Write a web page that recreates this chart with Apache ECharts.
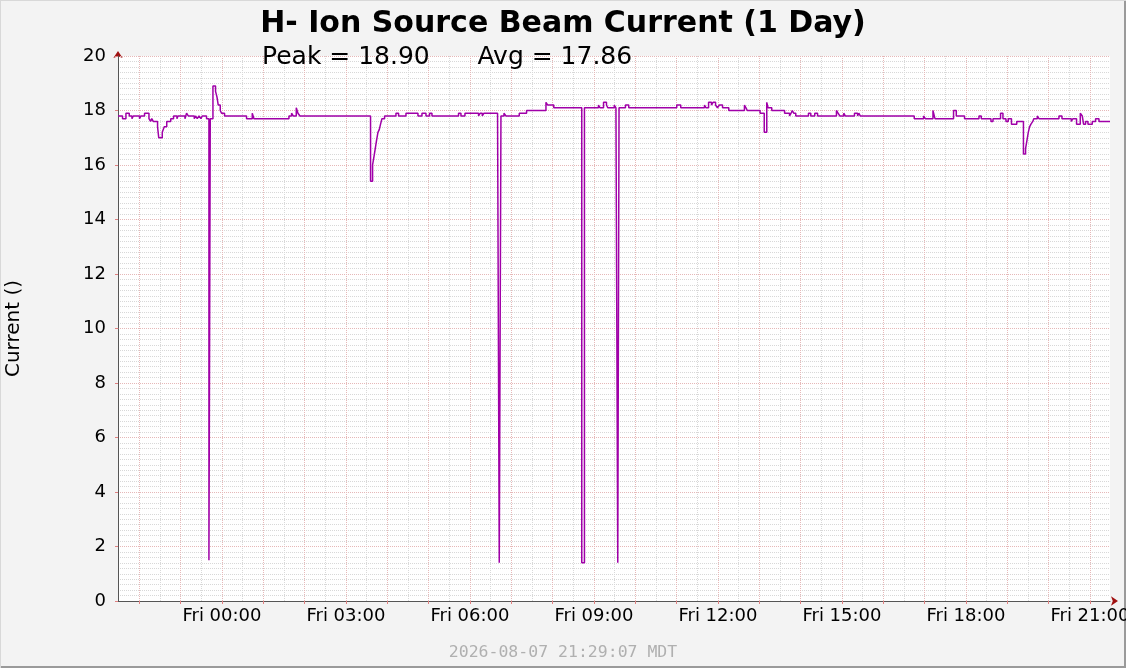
<!DOCTYPE html>
<html>
<head>
<meta charset="utf-8">
<script src="https://cdn.jsdelivr.net/npm/echarts@6/dist/echarts.min.js"></script>
<style>
  html, body { margin: 0; padding: 0; background: #f3f3f3; }
  #chart { width: 1126px; height: 668px; }
</style>
</head>
<body>
<div id="chart"></div>
<script>
// Time in hours since Thu 00:00 (24 = Fri 00:00); value = beam current
const timeHours = [
  21.485, 21.595, 21.677, 21.757, 21.823, 21.854, 22.006, 22.040, 22.127, 22.234,
  22.273, 22.302, 22.338, 22.442, 22.471, 22.556, 22.604, 22.664, 22.761, 22.829,
  22.911, 22.935, 23.105, 23.144, 23.185, 23.330, 23.361, 23.402, 23.444, 23.492,
  23.523, 23.627, 23.685, 23.717, 23.782, 23.845, 23.879, 23.910, 23.959, 23.990,
  24.063, 24.595, 24.733, 24.774, 25.621, 25.684, 25.725, 25.798, 25.839, 25.887,
  27.595, 27.644, 27.677, 27.709, 27.740, 27.774, 27.806, 27.837, 27.871, 27.934,
  28.210, 28.273, 28.452, 28.742, 28.839, 28.936, 29.023, 29.081, 29.724, 29.782,
  29.879, 30.208, 30.249, 30.298, 30.339, 30.668, 30.709, 30.750, 30.823, 30.871,
  31.193, 31.370, 31.839, 31.882, 32.028, 32.705, 32.770, 33.109, 33.148, 33.232,
  33.303, 33.334, 33.491, 33.532, 33.576, 33.607, 33.762, 33.842, 35.003, 35.100,
  35.674, 35.712, 35.773, 35.843, 35.882, 35.942, 35.988, 36.036, 36.111, 36.262,
  36.641, 36.678, 36.709, 37.019, 37.120, 37.181, 37.212, 37.302, 37.612, 37.732,
  37.769, 37.798, 37.834, 37.883, 38.190, 38.246, 38.342, 38.410, 38.867, 38.906,
  38.947, 39.044, 39.080, 39.303, 39.378, 39.407, 39.443, 40.749, 40.975, 41.016,
  41.202, 41.250, 41.700, 41.766, 41.966, 42.315, 42.370, 42.605, 42.654, 42.837,
  42.895, 42.968, 43.023, 43.101, 43.229, 43.391, 43.442, 43.476, 43.508, 43.539,
  43.573, 43.617, 43.641, 43.726, 43.767, 44.250, 44.323, 44.548, 44.589, 44.676,
  44.766, 44.814, 44.845, 44.894, 44.952, 45.056, 45.136, 45.218, 45.485
];
const current = [
  17.8, 17.7, 17.9, 17.8, 17.7, 17.8, 17.7, 17.8, 17.9, 17.7,
  17.6, 17.7, 17.6, 17.4, 17.0, 17.2, 17.4, 17.6, 17.7, 17.8,
  17.7, 17.8, 17.7, 17.9, 17.8, 17.7, 17.8, 17.7, 17.8, 17.7,
  17.8, 17.7, 1.5, 17.7, 18.9, 18.7, 18.5, 18.2, 18.0, 17.9,
  17.8, 17.7, 17.9, 17.7, 17.8, 17.9, 17.8, 18.1, 17.9, 17.8,
  15.4, 16.0, 16.3, 16.6, 16.9, 17.2, 17.3, 17.5, 17.7, 17.8,
  17.9, 17.8, 17.9, 17.8, 17.9, 17.8, 17.9, 17.8, 17.9, 17.8,
  17.9, 17.8, 17.9, 17.8, 17.9, 17.8, 1.4, 17.8, 17.9, 17.8,
  17.9, 18.0, 18.3, 18.2, 18.1, 1.4, 18.1, 18.2, 18.1, 18.3,
  18.2, 18.1, 18.2, 18.1, 1.4, 18.1, 18.2, 18.1, 18.2, 18.1,
  18.2, 18.1, 18.3, 18.2, 18.3, 18.2, 18.1, 18.2, 18.1, 18.0,
  18.2, 18.1, 18.0, 17.9, 17.2, 18.3, 18.1, 18.0, 17.9, 17.8,
  17.9, 18.0, 17.9, 17.8, 17.9, 17.8, 17.9, 17.8, 18.0, 17.9,
  17.8, 17.9, 17.8, 17.9, 17.8, 17.9, 17.8, 17.7, 17.8, 17.7,
  18.0, 17.7, 18.0, 17.8, 17.7, 17.8, 17.7, 17.6, 17.7, 17.9,
  17.7, 17.6, 17.7, 17.5, 17.6, 16.4, 16.6, 16.9, 17.2, 17.4,
  17.5, 17.6, 17.7, 17.8, 17.7, 17.8, 17.7, 17.6, 17.7, 17.5,
  17.9, 17.8, 17.5, 17.6, 17.5, 17.6, 17.7, 17.6, 17.6
];
const hourGrid = [22,23,24,25,26,27,28,29,30,31,32,33,34,35,36,37,38,39,40,41,42,43,44,45];
const halfHourGrid = [21.5,22.5,23.5,24.5,25.5,26.5,27.5,28.5,29.5,30.5,31.5,32.5,33.5,34.5,35.5,36.5,37.5,38.5,39.5,40.5,41.5,42.5,43.5,44.5,45.5];
const xLabelHours = [24, 27, 30, 33, 36, 39, 42, 45];
const xLabelTexts = ['Fri 00:00','Fri 03:00','Fri 06:00','Fri 09:00','Fri 12:00','Fri 15:00','Fri 18:00','Fri 21:00'];
const chartTitle = 'H- Ion Source Beam Current (1 Day)';
const peakValue = '18.90';
const avgValue = '17.86';
const yAxisName = 'Current ()';
const footerText = '2026-08-07 21:29:07 MDT';
const tStart = 21.485, tEnd = 45.485;

const FONT = 'DejaVu Sans';
const majorGrid = { color: '#e6b8b8', width: 1, type: [1, 1] };
const minorGrid = { color: '#d8d8d8', width: 1, type: [1, 1] };

const chart = echarts.init(document.getElementById('chart'), null, { renderer: 'canvas' });
chart.setOption({
  backgroundColor: '#f3f3f3',
  animation: false,
  title: [
    { text: chartTitle, left: 'center', top: 4,
      textStyle: { fontFamily: FONT, fontWeight: 'bold', fontSize: 30, color: '#000' } },
    { text: 'Peak = ' + peakValue + '      Avg = ' + avgValue, left: 257, top: 40,
      textStyle: { fontFamily: FONT, fontWeight: 'normal', fontSize: 25, color: '#000' } },
    { text: footerText, left: 'center', top: 639,
      textStyle: { fontFamily: 'DejaVu Sans Mono', fontWeight: 'normal', fontSize: 16.5, color: '#b0b0b0' } }
  ],
  grid: { left: 118, right: 16, top: 56, bottom: 67, show: true, backgroundColor: '#ffffff', borderWidth: 0,
    containLabel: false, outerBoundsMode: 'none' },
  xAxis: [
    { type: 'value', min: tStart, max: tEnd, position: 'bottom', z: 2,
      axisLine: { show: true, onZero: false, lineStyle: { color: '#555', width: 1 } },
      axisTick: { show: true, length: 3, inside: false, customValues: hourGrid, lineStyle: { color: '#e08080' } },
      axisLabel: { show: true, customValues: xLabelHours, margin: 6,
        fontFamily: FONT, fontSize: 18, color: '#000',
        formatter: v => xLabelTexts[xLabelHours.indexOf(Math.round(v))] },
      splitLine: { show: true, lineStyle: majorGrid },
      minorSplitLine: { show: false } },
    { type: 'value', min: tStart, max: tEnd, position: 'bottom', z: 1,
      axisLine: { show: true, onZero: false, symbol: ['none', 'arrow'], symbolSize: [7, 7], symbolOffset: [0, 8],
        lineStyle: { color: '#a01010', width: 0 } },
      axisTick: { show: false, customValues: halfHourGrid },
      axisLabel: { show: false },
      splitLine: { show: true, lineStyle: minorGrid } }
  ],
  yAxis: [
    { type: 'value', min: 0, max: 20, interval: 2, z: 2,
      name: yAxisName, nameLocation: 'middle', nameGap: 94, nameRotate: 90,
      nameTextStyle: { fontFamily: FONT, fontSize: 20, color: '#000' },
      axisLine: { show: true, onZero: false, lineStyle: { color: '#555', width: 1 } },
      axisTick: { show: true, length: 3, lineStyle: { color: '#e08080' } },
      axisLabel: { margin: 12, fontFamily: FONT, fontSize: 18, color: '#000' },
      splitLine: { show: true, lineStyle: majorGrid },
      minorTick: { show: false, splitNumber: 10 },
      minorSplitLine: { show: true, lineStyle: minorGrid } },
    { type: 'value', min: 0, max: 20, interval: 2, z: 1, position: 'left',
      axisLine: { show: true, onZero: false, symbol: ['none', 'arrow'], symbolSize: [7, 7], symbolOffset: [0, 5],
        lineStyle: { color: '#a01010', width: 0 } },
      axisTick: { show: false }, axisLabel: { show: false }, splitLine: { show: false } }
  ],
  series: [{
    type: 'line', step: 'end', showSymbol: false, symbol: 'none',
    xAxisIndex: 0, yAxisIndex: 0,
    data: timeHours.map((t, i) => [t, current[i]]),
    lineStyle: { color: '#a000a8', width: 1.5 },
    z: 5
  }],
  graphic: [
    { type: 'rect', right: 0, top: 0, shape: { width: 2, height: 668 }, style: { fill: '#9a9a9a' }, silent: true },
    { type: 'rect', left: 0, bottom: 0, shape: { width: 1126, height: 2 }, style: { fill: '#9a9a9a' }, silent: true },
    { type: 'rect', left: 0, top: 0, shape: { width: 1, height: 668 }, style: { fill: '#d8d8d8' }, silent: true },
    { type: 'rect', left: 0, top: 0, shape: { width: 1126, height: 1 }, style: { fill: '#d8d8d8' }, silent: true }
  ]
});
</script>
</body>
</html>
